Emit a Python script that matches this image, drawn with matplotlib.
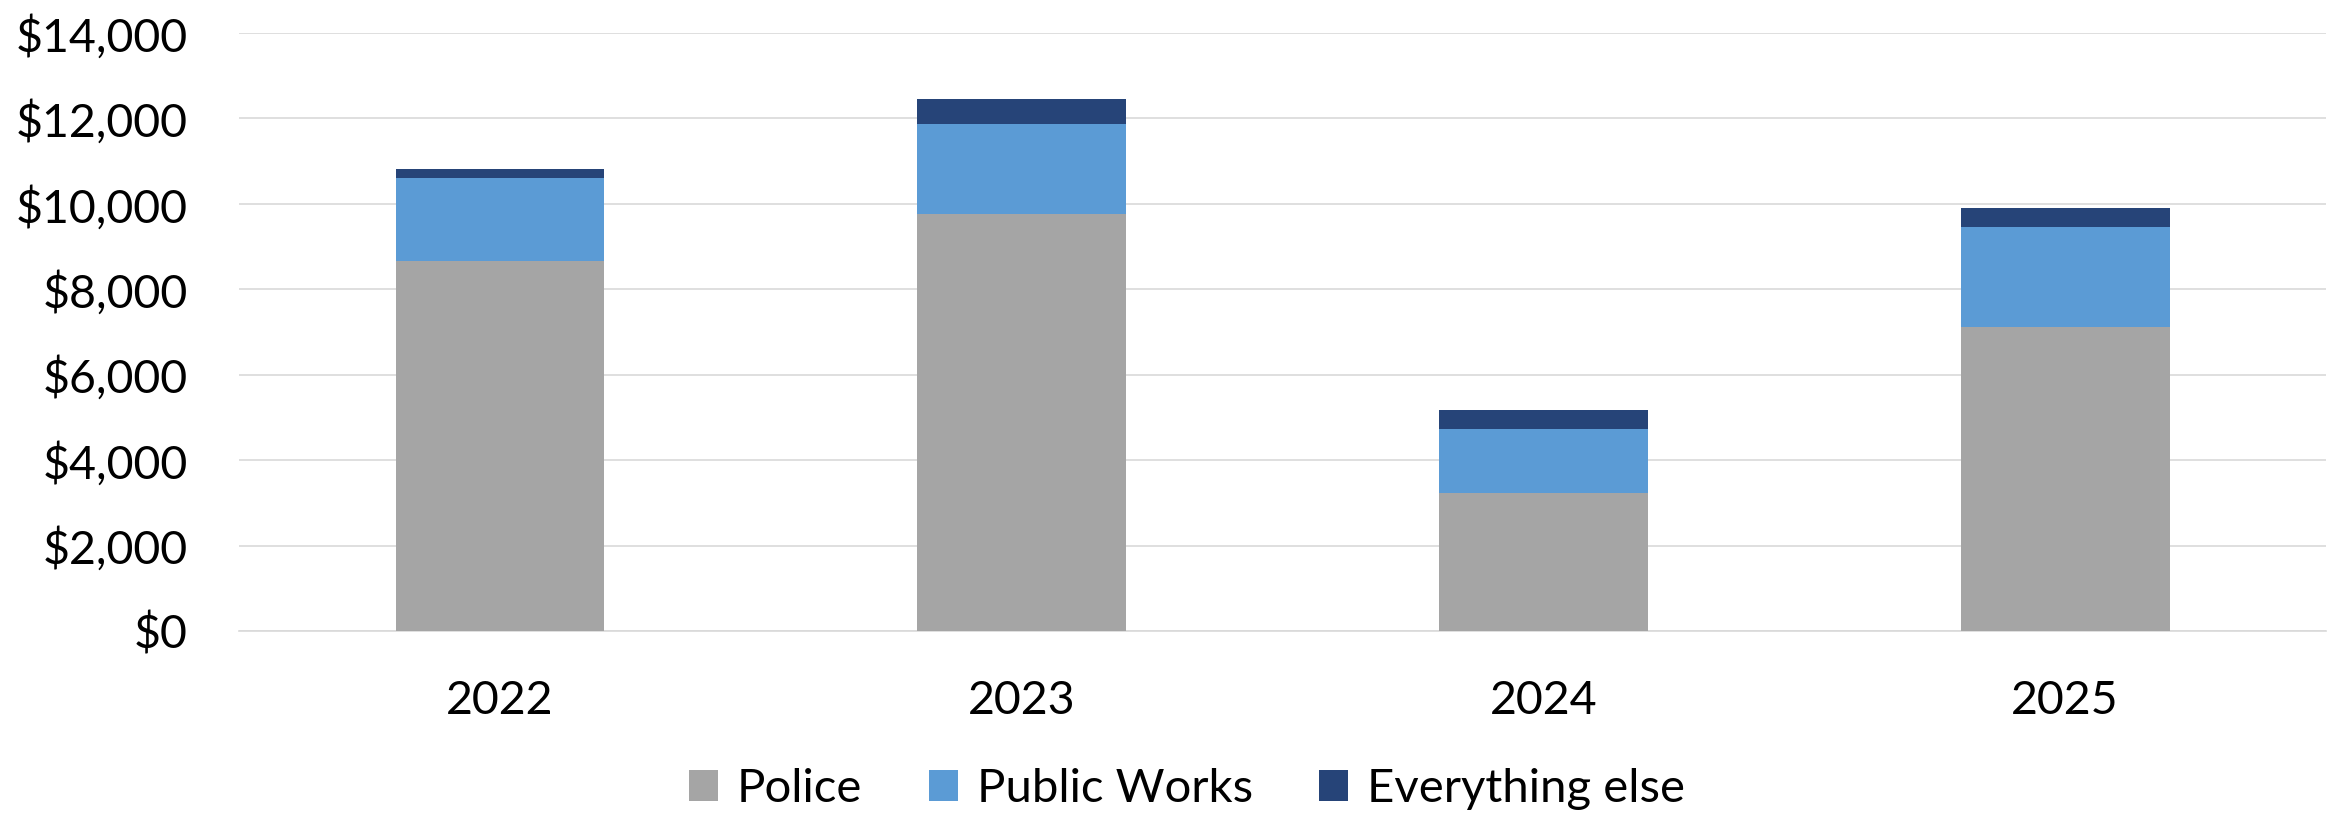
import matplotlib.pyplot as plt
from matplotlib.ticker import FuncFormatter

years = ["2022", "2023", "2024", "2025"]
police = [8670, 9765, 3225, 7120]
public_works = [1945, 2100, 1505, 2340]
everything_else = [197, 600, 450, 445]

plt.rcParams['font.family'] = ['Lato', 'DejaVu Sans']

fig = plt.figure(figsize=(23.34, 8.13), dpi=100)
ax = fig.add_axes([0.1024, 0.2239, 0.8942, 0.7355])

x = range(len(years))
w = 0.4
ax.bar(x, police, w, color="#A5A5A5", label="Police", zorder=3)
ax.bar(x, public_works, w, bottom=police, color="#5B9BD5", label="Public Works", zorder=3)
bottom2 = [p + q for p, q in zip(police, public_works)]
ax.bar(x, everything_else, w, bottom=bottom2, color="#264478", label="Everything else", zorder=3)

ax.set_xlim(-0.5, 3.5)
ax.set_ylim(0, 14000)
ax.set_yticks(range(0, 14001, 2000))
ax.yaxis.set_major_formatter(FuncFormatter(lambda v, p: f"${v:,.0f}"))
ax.set_xticks(list(x))
ax.set_xticklabels(years)

ax.grid(axis="y", color="#D9D9D9", lw=1.2, zorder=0)
for s in ["top", "right", "left"]:
    ax.spines[s].set_visible(False)
ax.spines["bottom"].set_color("#D9D9D9")
ax.spines["bottom"].set_linewidth(1.2)
ax.tick_params(axis="both", length=0, labelsize=33.5)
ax.tick_params(axis="y", pad=37)
ax.tick_params(axis="x", pad=35)

fig.legend(loc="center", bbox_to_anchor=(1187 / 2334, 1 - 789 / 813), ncol=3,
           frameon=False, fontsize=34, handlelength=0.62, handleheight=0.62,
           handletextpad=0.4, columnspacing=1.4, borderpad=0)

fig.savefig("out.png", dpi=100)
